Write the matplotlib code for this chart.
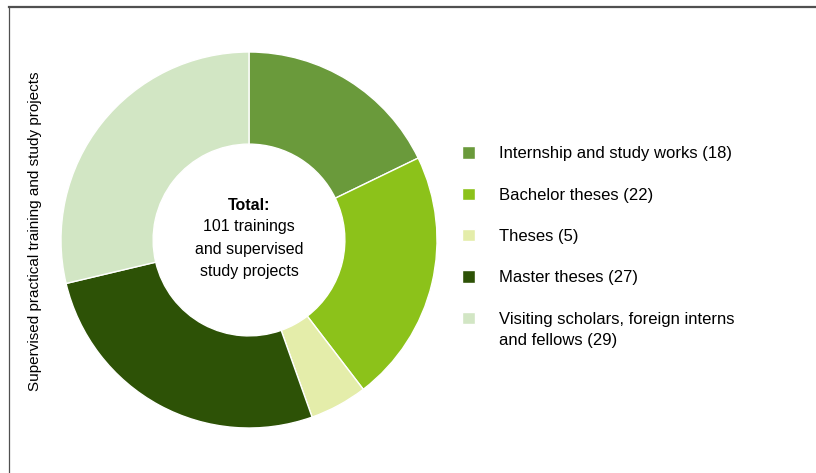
import matplotlib.pyplot as plt
from matplotlib.lines import Line2D

# data
categories = ['Internship and study works', 'Bachelor theses', 'Theses',
              'Master theses', 'Visiting scholars, foreign interns\nand fellows']
counts = [18, 22, 5, 27, 29]
colors = ['#6a9a3b', '#8cc21a', '#e4edaa', '#2d5206', '#d2e6c4']
total_label = '101 trainings\nand supervised\nstudy projects'

plt.rcParams['font.family'] = ['Liberation Sans', 'DejaVu Sans']

fig = plt.figure(figsize=(8.16, 4.73), dpi=100)
ax = fig.add_axes([61 / 816, 45 / 473, 376 / 816, 376 / 473])

wedges, _ = ax.pie(counts, colors=colors, startangle=90, counterclock=False,
                   radius=1.0, wedgeprops=dict(width=0.49, edgecolor='white', linewidth=1))
ax.set_xlim(-1, 1)
ax.set_ylim(-1, 1)

# text in the hole
ax.text(0, 0.186, 'Total:', ha='center', va='center', fontsize=11.5, fontweight='bold')
ax.text(0, -0.048, total_label, ha='center', va='center', fontsize=11.5, linespacing=1.62)

labels = ['%s (%d)' % (c, n) for c, n in zip(categories, counts)]
leg = fig.legend(wedges, labels, loc='upper left', bbox_to_anchor=(454 / 816, 1 - 138 / 473),
                 frameon=False, fontsize=12, handlelength=0.75, handleheight=0.75,
                 handletextpad=1.45, labelspacing=1.58, borderpad=0)
for t in leg.get_texts():
    t.set_linespacing(1.55)
# square of the two-line entry sits next to its first line
for col in leg._legend_handle_box.get_children():
    col.get_children()[-1].align = 'top'

fig.text(35 / 816, 1 - 231 / 473, 'Supervised practical training and study projects',
         rotation=90, ha='center', va='center', fontsize=11)

# frame lines of the original box
fig.add_artist(Line2D([8.5 / 816, 1], [1 - 7.5 / 473, 1 - 7.5 / 473],
                      color='#505050', linewidth=1.6, transform=fig.transFigure))
fig.add_artist(Line2D([8.5 / 816, 8.5 / 816], [0, 1 - 7.5 / 473],
                      color='#505050', linewidth=0.9, transform=fig.transFigure))

fig.savefig('out.png', dpi=100)
